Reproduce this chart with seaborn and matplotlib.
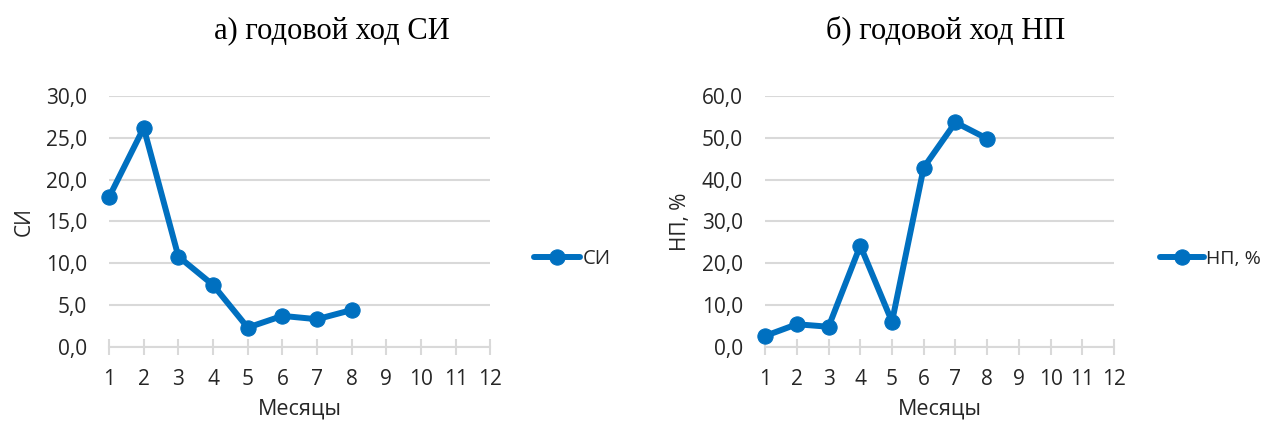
import pandas as pd
import matplotlib.pyplot as plt
import seaborn as sns
from matplotlib.ticker import FuncFormatter, MultipleLocator

# --- data ---
months = [1, 2, 3, 4, 5, 6, 7, 8]
si_values = [17.9, 26.2, 10.8, 7.4, 2.3, 3.7, 3.3, 4.4]
np_values = [2.6, 5.4, 4.8, 24.2, 6.0, 42.9, 53.7, 49.8]
month_ticks = list(range(1, 13))

BLUE = "#0070C0"
GRID = "#D9D9D9"
TEXT = "#262626"

sns.set_theme(style="white")
plt.rcParams['font.family'] = ['Open Sans', 'DejaVu Sans']


def comma_fmt(v, pos):
    return f"{v:.1f}".replace(".", ",")


def draw_panel(ax, values, label, ymax, ystep):
    df = pd.DataFrame({"Месяцы": months, label: values})
    sns.lineplot(data=df, x="Месяцы", y=label, ax=ax, color=BLUE,
                 linewidth=4.3, marker="o", markersize=11,
                 markeredgecolor=BLUE, label=label, clip_on=False)
    ax.set_xlim(1, 12)
    ax.set_ylim(0, ymax)
    ax.set_xticks(month_ticks)
    ax.yaxis.set_major_locator(MultipleLocator(ystep))
    ax.yaxis.set_major_formatter(FuncFormatter(comma_fmt))
    ax.grid(axis="y", color=GRID, linewidth=1.5)
    ax.set_axisbelow(True)
    for s in ["top", "right", "left"]:
        ax.spines[s].set_visible(False)
    ax.spines["bottom"].set_color(GRID)
    ax.spines["bottom"].set_linewidth(1.5)
    ax.tick_params(axis="x", direction="inout", length=12, width=1.5,
                   color=GRID, labelsize=15, labelcolor=TEXT, pad=10, bottom=True)
    ax.tick_params(axis="y", length=0, labelsize=15, labelcolor=TEXT, pad=16)
    ax.set_xlabel("Месяцы", fontsize=15.5, color=TEXT, labelpad=6)
    ax.set_ylabel(label, fontsize=15, color=TEXT, labelpad=8)


fig = plt.figure(figsize=(12.71, 4.25), dpi=100)
ax1 = fig.add_axes([0.0858, 0.184, 0.300, 0.590])
ax2 = fig.add_axes([0.602, 0.184, 0.2745, 0.590])

draw_panel(ax1, si_values, "СИ", 30, 5)
draw_panel(ax2, np_values, "НП, %", 60, 10)

ax1.legend(loc="center left", bbox_to_anchor=(1.067, 0.35), frameon=False,
           fontsize=14.5, handlelength=2.3, handletextpad=0.1, labelcolor=TEXT)
ax2.legend(loc="center left", bbox_to_anchor=(1.092, 0.35), frameon=False,
           fontsize=14, handlelength=2.3, handletextpad=0.1, labelcolor=TEXT,
           borderaxespad=0.3)

fig.text(0.261, 0.928, "а) годовой ход СИ", ha="center", va="center",
         family=["Liberation Serif", "DejaVu Serif"], fontsize=22, color="black")
fig.text(0.744, 0.928, "б) годовой ход НП", ha="center", va="center",
         family=["Liberation Serif", "DejaVu Serif"], fontsize=22, color="black")

fig.savefig("out.png", dpi=100)
